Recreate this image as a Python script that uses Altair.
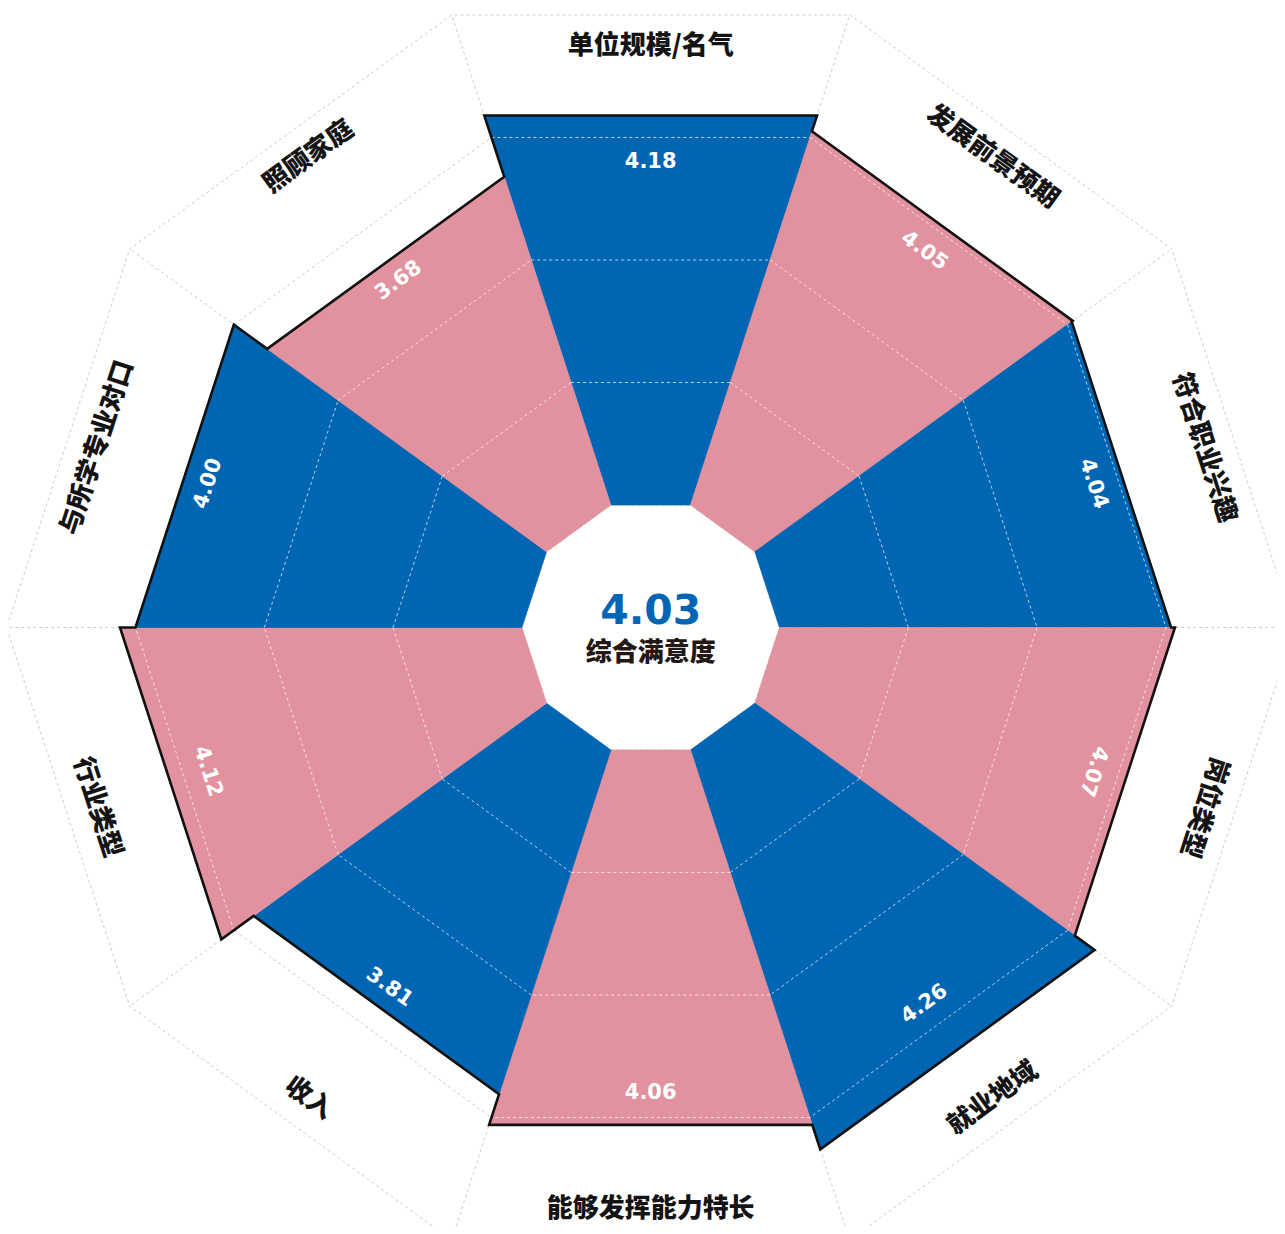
import numpy as np
import pandas as pd
import altair as alt

# ---------------- data ----------------
categories = ["单位规模/名气", "发展前景预期", "符合职业兴趣", "岗位类型", "就业地域",
              "能够发挥能力特长", "收入", "行业类型", "与所学专业对口", "照顾家庭"]
scores = [4.18, 4.05, 4.04, 4.07, 4.26, 4.06, 3.81, 4.12, 4.00, 3.68]
overall_score = [4.03]
overall_label = ["综合满意度"]
grid_levels = [1, 2, 3, 4, 5]

# ---------------- styling ----------------
BLUE = "#0065B2"
PINK = "#E2929E"
GRID = "#c4c4c4"
INNER = 1.0          # hole radius (value units)
LABEL_R = 4.75       # category label radius
VAL_CAP = 3.80       # value label radius cap

N = len(categories)
step = 360.0 / N
half = step / 2.0
sec = 1.0 / np.cos(np.radians(half))


def xy(apothem, ang):
    r = apothem * sec
    a = np.radians(ang)
    return r * np.sin(a), r * np.cos(a)


def xy_c(r, ang):
    a = np.radians(ang)
    return r * np.sin(a), r * np.cos(a)


def text_rot(theta):
    return (theta - 180) % 360 if 120 < theta < 260 else theta % 360


# sectors (filled trapezoids)
sec_rows = []
for i, (c, v) in enumerate(zip(categories, scores)):
    th = i * step
    col = BLUE if i % 2 == 0 else PINK
    corners = [(th - half, INNER), (th - half, v), (th + half, v), (th + half, INNER)]
    for k, (ang, r) in enumerate(corners):
        x, y = xy(r, ang)
        sec_rows.append(dict(i=i, k=k, x=x, y=y, color=col))
sec_df = pd.DataFrame(sec_rows)

# outer outline
out_rows = []
for i, v in enumerate(scores):
    th = i * step
    for k, ang in enumerate([th - half, th + half]):
        x, y = xy(v, ang)
        out_rows.append(dict(k=2 * i + k, x=x, y=y))
out_df = pd.DataFrame(out_rows)

# grid rings
ring_rows = []
for lv in grid_levels:
    for j in range(N):
        x, y = xy(lv, half + j * step)
        ring_rows.append(dict(level=lv, k=j, x=x, y=y))
ring_df = pd.DataFrame(ring_rows)

# radial grid lines
rad_rows = []
for j in range(N):
    ang = half + j * step
    x, y = xy(grid_levels[0], ang)
    x2, y2 = xy(grid_levels[-1], ang)
    rad_rows.append(dict(x=x, y=y, x2=x2, y2=y2))
rad_df = pd.DataFrame(rad_rows)

# grid segments on top of sectors
ov_rows = []
for i, v in enumerate(scores):
    th = i * step
    for lv in grid_levels[1:-1]:
        if lv < v:
            x, y = xy(lv, th - half)
            x2, y2 = xy(lv, th + half)
            ov_rows.append(dict(x=x, y=y, x2=x2, y2=y2))
ov_df = pd.DataFrame(ov_rows)

# labels
lab_rows = []
for i, (c, v) in enumerate(zip(categories, scores)):
    th = i * step
    vx, vy = xy_c(min(v - 0.18, VAL_CAP), th)
    cx, cy = xy_c(LABEL_R, th)
    lab_rows.append(dict(cat=c, score=v, vx=vx, vy=vy, cx=cx, cy=cy, rot=text_rot(th)))
lab_df = pd.DataFrame(lab_rows)

center_df = pd.DataFrame({"score": overall_score, "name": overall_label,
                          "x": [0.0], "y1": [0.13], "y2": [-0.21]})

# ---------------- scales ----------------
xs = alt.Scale(domain=[-5.2463, 5.1126], nice=False, zero=False)
ys = alt.Scale(domain=[-4.8817, 5.0530], nice=False, zero=False)


def X(f="x"):
    return alt.X(f"{f}:Q", scale=xs, axis=None)


def Y(f="y"):
    return alt.Y(f"{f}:Q", scale=ys, axis=None)


rings = alt.Chart(ring_df).mark_line(
    interpolate="linear-closed", stroke=GRID, strokeWidth=0.9, strokeDash=[3, 3]
).encode(x=X(), y=Y(), detail="level:N", order="k:Q")

radials = alt.Chart(rad_df).mark_rule(
    stroke=GRID, strokeWidth=0.9, strokeDash=[3, 3]
).encode(x=X(), y=Y(), x2="x2:Q", y2="y2:Q")

sectors = alt.Chart(sec_df).mark_line(
    interpolate="linear-closed", strokeWidth=0.7
).encode(
    x=X(), y=Y(), detail="i:N", order="k:Q",
    fill=alt.Fill("color:N", scale=None),
    stroke=alt.Stroke("color:N", scale=None),
)

overlay = alt.Chart(ov_df).mark_rule(
    stroke="white", strokeOpacity=0.8, strokeWidth=0.9, strokeDash=[3, 3]
).encode(x=X(), y=Y(), x2="x2:Q", y2="y2:Q")

outline = alt.Chart(out_df).mark_line(
    interpolate="linear-closed", stroke="#111111", strokeWidth=2.6, strokeJoin="miter"
).encode(x=X(), y=Y(), order="k:Q")

val_text = alt.Chart(lab_df).mark_text(
    font="DejaVu Sans", fontSize=21, fontWeight="bold", color="white",
    align="center", baseline="middle"
).encode(
    x=X("vx"), y=Y("vy"),
    text=alt.Text("score:Q", format=".2f"),
    angle=alt.Angle("rot:Q", scale=None),
)

cat_text = alt.Chart(lab_df).mark_text(
    font="Noto Sans CJK SC", fontSize=26, fontWeight=900, color="#141414",
    align="center", baseline="middle"
).encode(
    x=X("cx"), y=Y("cy"), text="cat:N",
    angle=alt.Angle("rot:Q", scale=None),
)

center_num = alt.Chart(center_df).mark_text(
    font="DejaVu Sans", fontSize=41, fontWeight="bold", color=BLUE,
    align="center", baseline="middle"
).encode(x=X(), y=Y("y1"), text=alt.Text("score:Q", format=".2f"))

center_name = alt.Chart(center_df).mark_text(
    font="Noto Sans CJK SC", fontSize=26, fontWeight=900, color="#231815",
    align="center", baseline="middle"
).encode(x=X(), y=Y("y2"), text="name:N")

chart = alt.layer(
    rings, radials, sectors, overlay, outline, val_text, cat_text, center_num, center_name
).properties(
    width=1270, height=1218, padding=0,
    autosize=alt.AutoSizeParams(type="none"), background="white",
).configure_view(strokeWidth=0)

chart.save("out.html", embed_options={"renderer": "svg", "actions": False})
